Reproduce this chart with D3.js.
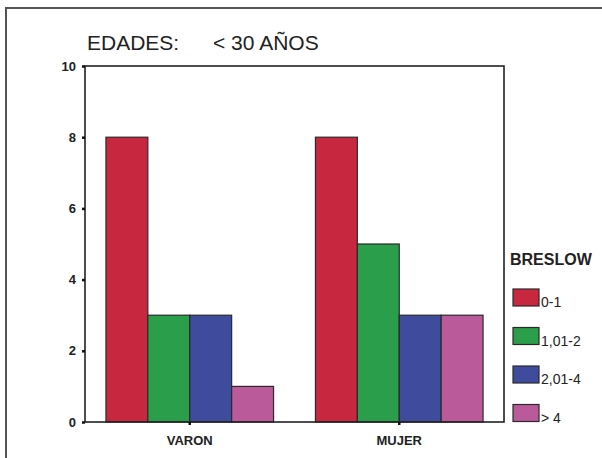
<!DOCTYPE html>
<html>
<head>
<meta charset="utf-8">
<script src="https://cdn.jsdelivr.net/npm/d3@7"></script>
<style>
  body { margin: 0; background: #fff; }
  text { font-family: 'Liberation Sans', Arial, sans-serif; fill: #222; }
</style>
</head>
<body>
<div id="chart"></div>
<script>
// chart data
const categories = ['VARON', 'MUJER'];
const breslowGroups = ['0-1', '1,01-2', '2,01-4', '> 4'];
const varonValues = [8, 3, 3, 1];
const mujerValues = [8, 5, 3, 3];
const yTicks = [0, 2, 4, 6, 8, 10];
const colors = ['#c8283f', '#2a9e4a', '#3f4b9c', '#bb5a9b'];

const W = 602, H = 458;
const svg = d3.select('#chart').append('svg')
  .attr('width', W).attr('height', H);

// outer frame (top + left only, image is cropped)
svg.append('path')
  .attr('d', `M6,${H} V8 H${W}`)
  .attr('fill', 'none').attr('stroke', '#555').attr('stroke-width', 2);

// title
svg.append('text').attr('x', 87).attr('y', 50)
  .style('font-size', '21px').text('EDADES:');
svg.append('text').attr('x', 213).attr('y', 50)
  .style('font-size', '21px').text('< 30 AÑOS');

const plot = { left: 85, right: 504, top: 66, bottom: 422 };

const x0 = d3.scaleBand()
  .domain(categories)
  .range([plot.left, plot.right])
  .paddingInner(0.2)
  .paddingOuter(0.1);

const x1 = d3.scaleBand()
  .domain(breslowGroups)
  .range([0, x0.bandwidth()]);

const y = d3.scaleLinear()
  .domain([0, 10])
  .range([plot.bottom, plot.top]);

const rows = categories.map((c, i) => ({
  cat: c,
  values: (i === 0 ? varonValues : mujerValues).map((v, j) => ({ key: breslowGroups[j], value: v, color: colors[j] }))
}));

// bars
const groups = svg.selectAll('.grp')
  .data(rows)
  .enter().append('g')
  .attr('class', 'grp')
  .attr('transform', d => `translate(${x0(d.cat)},0)`);

groups.selectAll('rect')
  .data(d => d.values)
  .enter().append('rect')
  .attr('x', d => x1(d.key))
  .attr('y', d => y(d.value))
  .attr('width', x1.bandwidth())
  .attr('height', d => y(0) - y(d.value))
  .attr('fill', d => d.color)
  .attr('stroke', '#2a2a2a')
  .attr('stroke-width', 1.2);

// plot frame
svg.append('rect')
  .attr('x', plot.left).attr('y', plot.top)
  .attr('width', plot.right - plot.left)
  .attr('height', plot.bottom - plot.top)
  .attr('fill', 'none').attr('stroke', '#222').attr('stroke-width', 1.6);

// y axis
const yAxis = svg.append('g')
  .attr('transform', `translate(${plot.left},0)`)
  .call(d3.axisLeft(y).tickValues(yTicks).tickSize(3).tickPadding(6));
yAxis.select('.domain').remove();
yAxis.selectAll('line').attr('stroke', '#111').attr('stroke-width', 2.5);
yAxis.selectAll('text')
  .style('font-family', "'Liberation Sans', Arial, sans-serif")
  .style('font-size', '13px').style('font-weight', 'bold').attr('fill', '#222');

// x axis
const xAxis = svg.append('g')
  .attr('transform', `translate(0,${plot.bottom})`)
  .call(d3.axisBottom(x0).tickSize(3).tickPadding(11));
xAxis.select('.domain').remove();
xAxis.selectAll('line').attr('stroke', '#111').attr('stroke-width', 2.5);
xAxis.selectAll('text')
  .style('font-family', "'Liberation Sans', Arial, sans-serif")
  .style('font-size', '13px').style('font-weight', 'bold').attr('fill', '#222');

// legend
svg.append('text').attr('x', 510).attr('y', 265)
  .style('font-size', '16px').style('font-weight', 'bold').text('BRESLOW');

const legend = svg.selectAll('.leg')
  .data(breslowGroups)
  .enter().append('g')
  .attr('class', 'leg')
  .attr('transform', (d, i) => `translate(513,${289 + i * 38.5})`);

legend.append('rect')
  .attr('width', 26).attr('height', 17)
  .attr('fill', (d, i) => colors[i])
  .attr('stroke', '#2a2a2a').attr('stroke-width', 1.2);

legend.append('text')
  .attr('x', 28).attr('y', 18)
  .style('font-size', '14px')
  .text(d => d);
</script>
</body>
</html>
